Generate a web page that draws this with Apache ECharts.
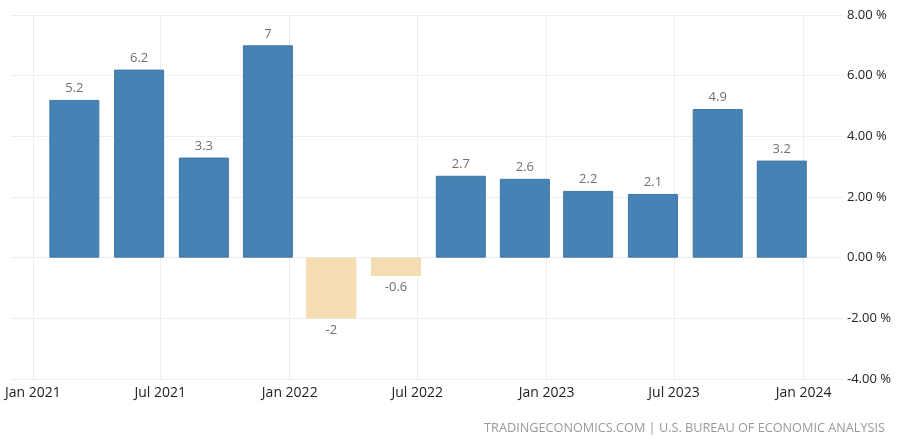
<!DOCTYPE html>
<html>
<head>
<meta charset="utf-8">
<script src="https://cdn.jsdelivr.net/npm/echarts@6/dist/echarts.min.js"></script>
<style>html,body{margin:0;padding:0;background:#fff;}#c{width:900px;height:444px;}</style>
</head>
<body>
<div id="c"></div>
<script>
const quarters = ['2021-03-01','2021-06-01','2021-09-01','2021-12-01','2022-03-01','2022-06-01','2022-09-01','2022-12-01','2023-03-01','2023-06-01','2023-09-01','2023-12-01'];
const growth = [5.2, 6.2, 3.3, 7, -2, -0.6, 2.7, 2.6, 2.2, 2.1, 4.9, 3.2];
const xTicks = ['2021-01-01','2021-07-01','2022-01-01','2022-07-01','2023-01-01','2023-07-01','2024-01-01'];
const yTicks = [-4, -2, 0, 2, 4, 6, 8];
const months = ['Jan','Feb','Mar','Apr','May','Jun','Jul','Aug','Sep','Oct','Nov','Dec'];
const FONT = 'Open Sans';

const ts = (d) => new Date(d + 'T00:00:00Z').getTime();
const chart = echarts.init(document.getElementById('c'), null, {renderer:'canvas'});
const tickTimes = xTicks.map(ts);
const data = quarters.map((d, i) => {
  const v = growth[i];
  const neg = v < 0;
  return {
    value: [ts(d), v],
    itemStyle: { color: neg ? '#F5DEB3' : '#4682B4', borderColor: neg ? '#F0D8A8' : '#3F76A6', borderWidth: 1 },
    label: { position: neg ? 'bottom' : 'top' }
  };
});

chart.setOption({
  animation: false,
  backgroundColor: '#fff',
  grid: { left: 11, right: 57, top: 15, bottom: 65, containLabel: false },
  xAxis: {
    type: 'value',
    min: ts('2020-12-01'),
    max: ts('2024-02-26'),
    axisLine: { show: false },
    axisTick: { show: false, customValues: tickTimes },
    splitLine: { show: false },
    axisLabel: {
      customValues: tickTimes,
      margin: 7,
      color: '#222',
      fontSize: 14,
      fontFamily: FONT,
      formatter: (v) => { const d = new Date(v); return months[d.getUTCMonth()] + ' ' + d.getUTCFullYear(); }
    }
  },
  yAxis: {
    type: 'value',
    position: 'right',
    min: yTicks[0], max: yTicks[yTicks.length - 1], interval: 2,
    axisLine: { show: false },
    axisTick: { show: false },
    splitLine: { show: true, lineStyle: { color: '#eeeeee', width: 1 } },
    axisLabel: {
      margin: 4,
      color: '#222',
      fontSize: 13,
      fontFamily: FONT,
      formatter: (v) => v.toFixed(2) + ' %'
    }
  },
  series: [{
    type: 'bar',
    barWidth: 50,
    data: data,
    z: 3,
    label: {
      show: true,
      distance: 5,
      color: '#707070',
      fontSize: 13,
      fontFamily: FONT,
      formatter: (p) => String(p.value[1])
    },
    markLine: {
      silent: true,
      symbol: 'none',
      z: 1,
      label: { show: false },
      lineStyle: { color: '#eeeeee', width: 1, type: 'solid' },
      data: tickTimes.map(t => ({ xAxis: t }))
    }
  }],
  graphic: [{
    type: 'text',
    right: 15,
    top: 422,
    style: {
      text: 'TRADINGECONOMICS.COM | U.S. BUREAU OF ECONOMIC ANALYSIS',
      fill: '#999',
      font: '12.7px "Open Sans"'
    }
  }]
});
</script>
</body>
</html>
